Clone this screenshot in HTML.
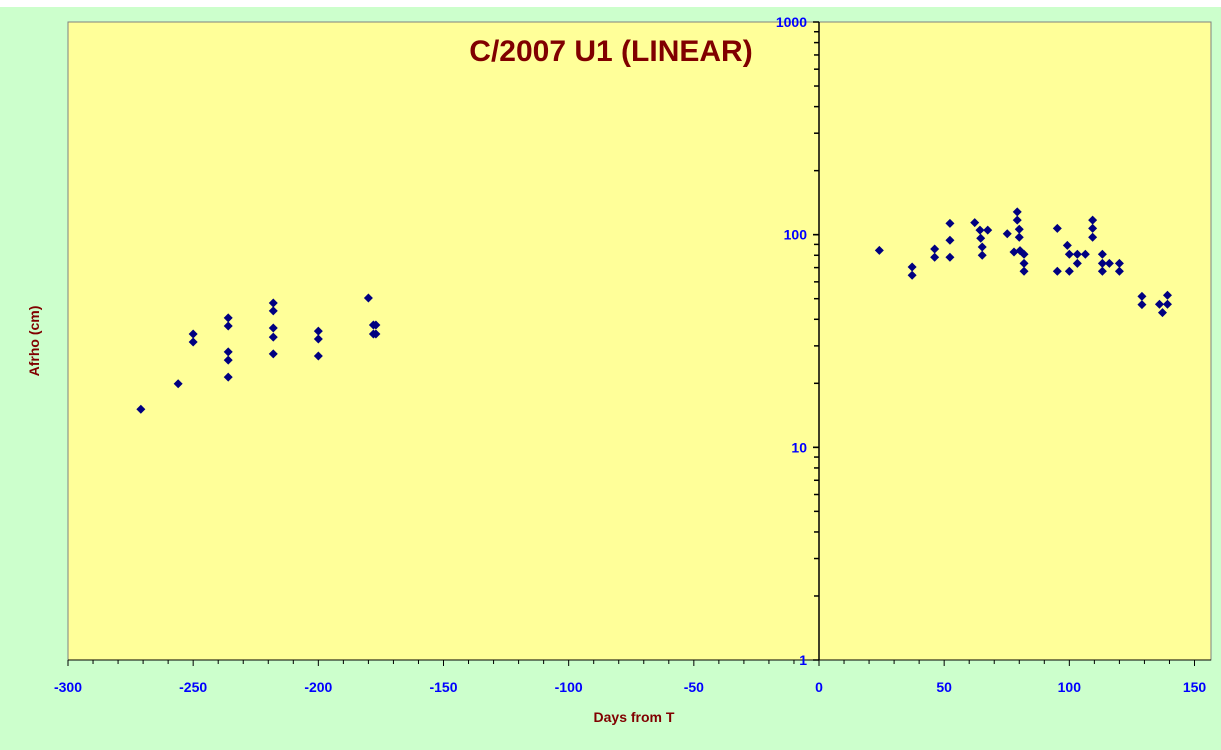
<!DOCTYPE html>
<html><head><meta charset="utf-8"><style>body{margin:0;background:#fff}svg{display:block}text{font-family:"Liberation Sans",Arial,sans-serif;font-weight:bold}</style></head>
<body>
<svg id="chart" width="1221" height="750" xmlns="http://www.w3.org/2000/svg">
<rect x="0" y="7" width="1221" height="743" fill="#ccffcc"/>
<rect x="68" y="22" width="1143" height="638" fill="#ffff99" stroke="#808080" stroke-width="1"/>
<text x="611" y="61" font-size="30" fill="#800000" text-anchor="middle">C/2007 U1 (LINEAR)</text>
<text x="634" y="722" font-size="14" fill="#800000" text-anchor="middle">Days from T</text>
<text transform="translate(39,341) rotate(-90)" font-size="14" fill="#800000" text-anchor="middle">Afrho (cm)</text>
<g id="axes"></g>
<g id="points"></g>
</svg>
<script>
const days = [-270.9,-256,-250,-250,-236,-236,-236,-236,-236,-218,-218,-218,-218,-218,-200,-200,-200,-180,-178,-178,-177,-177,
24.1,37.2,37.2,46.2,46.2,52.3,52.3,52.3,62.2,64.3,67.4,64.6,65.2,65.2,75.2,79.2,79.2,80.0,80.0,77.9,80.3,81.9,81.9,81.9,95.2,95.2,99.2,100,100,103.2,103.2,106.4,109.3,109.3,109.3,113.2,113.2,113.2,116,120,120,129,129,136,137.2,139.2,139.2];
const afrho = [15.1,19.9,34.1,31.3,40.6,37.2,28.1,25.7,21.4,47.7,43.8,36.4,33.0,27.5,35.2,32.3,26.9,50.4,37.6,34.1,37.6,34.1,
84.4,70.5,64.4,85.6,78.3,113,94.1,78.3,114,105,105,96.2,87.5,80.0,101,128,117,106,97.2,82.9,84.1,80.9,73.3,67.3,107,67.3,89.1,80.9,67.3,80.9,73.3,80.9,117,107,97.2,80.9,73.3,67.3,73.3,73.3,67.3,51.3,46.9,47.1,43.0,51.9,47.1];
const xTicks = [-300,-250,-200,-150,-100,-50,0,50,100,150];
const yTicks = [1,10,100,1000];
const NS="http://www.w3.org/2000/svg";
const X0=819, PX=751/300, YB=660, PDEC=638/3;
function xs(d){return X0+d*PX;}
function ys(v){return YB-Math.log10(v)*PDEC;}
const axes=document.getElementById('axes'), pts=document.getElementById('points');
function mk(tag,attrs,parent){const e=document.createElementNS(NS,tag);for(const k in attrs)e.setAttribute(k,attrs[k]);parent.appendChild(e);return e;}
const xl=mk('line',{x1:68,y1:YB,x2:1211,y2:YB,stroke:'#000','stroke-width':1},axes);


const yl=mk('line',{x1:X0,y1:22,x2:X0,y2:YB,stroke:'#000','stroke-width':1.5},axes);


for(let d=-300;d<=150;d+=10){
  const major=d%50===0;
  const t=mk('line',{x1:xs(d),y1:YB,x2:xs(d),y2:YB+(major?6:4),stroke:'#000'},axes);
  
  
}
xTicks.forEach(d=>{
  const t=mk('text',{x:xs(d),y:692,'font-size':14,fill:'#0000ff','text-anchor':'middle'},axes);
  t.textContent=d;
  
  
});
for(let e=0;e<3;e++){for(let m=1;m<=10;m++){
  const v=m*Math.pow(10,e);const major=(m===1||m===10);
  const t=mk('line',{x1:X0-(major?6:5),y1:ys(v),x2:X0,y2:ys(v),stroke:'#000','stroke-width':1.5},axes);
  
  
}}
yTicks.forEach(v=>{
  const t=mk('text',{x:X0-12,y:ys(v)+5,'font-size':14,fill:'#0000ff','text-anchor':'end'},axes);
  t.textContent=v;
  
  
});
days.forEach((d,i)=>{
  const cx=xs(d), cy=ys(afrho[i]);
  const p=mk('polygon',{points:`${cx},${cy-4.5} ${cx+4.5},${cy} ${cx},${cy+4.5} ${cx-4.5},${cy}`,fill:'#000080'},pts);
  
  
});
</script>
</body></html>
